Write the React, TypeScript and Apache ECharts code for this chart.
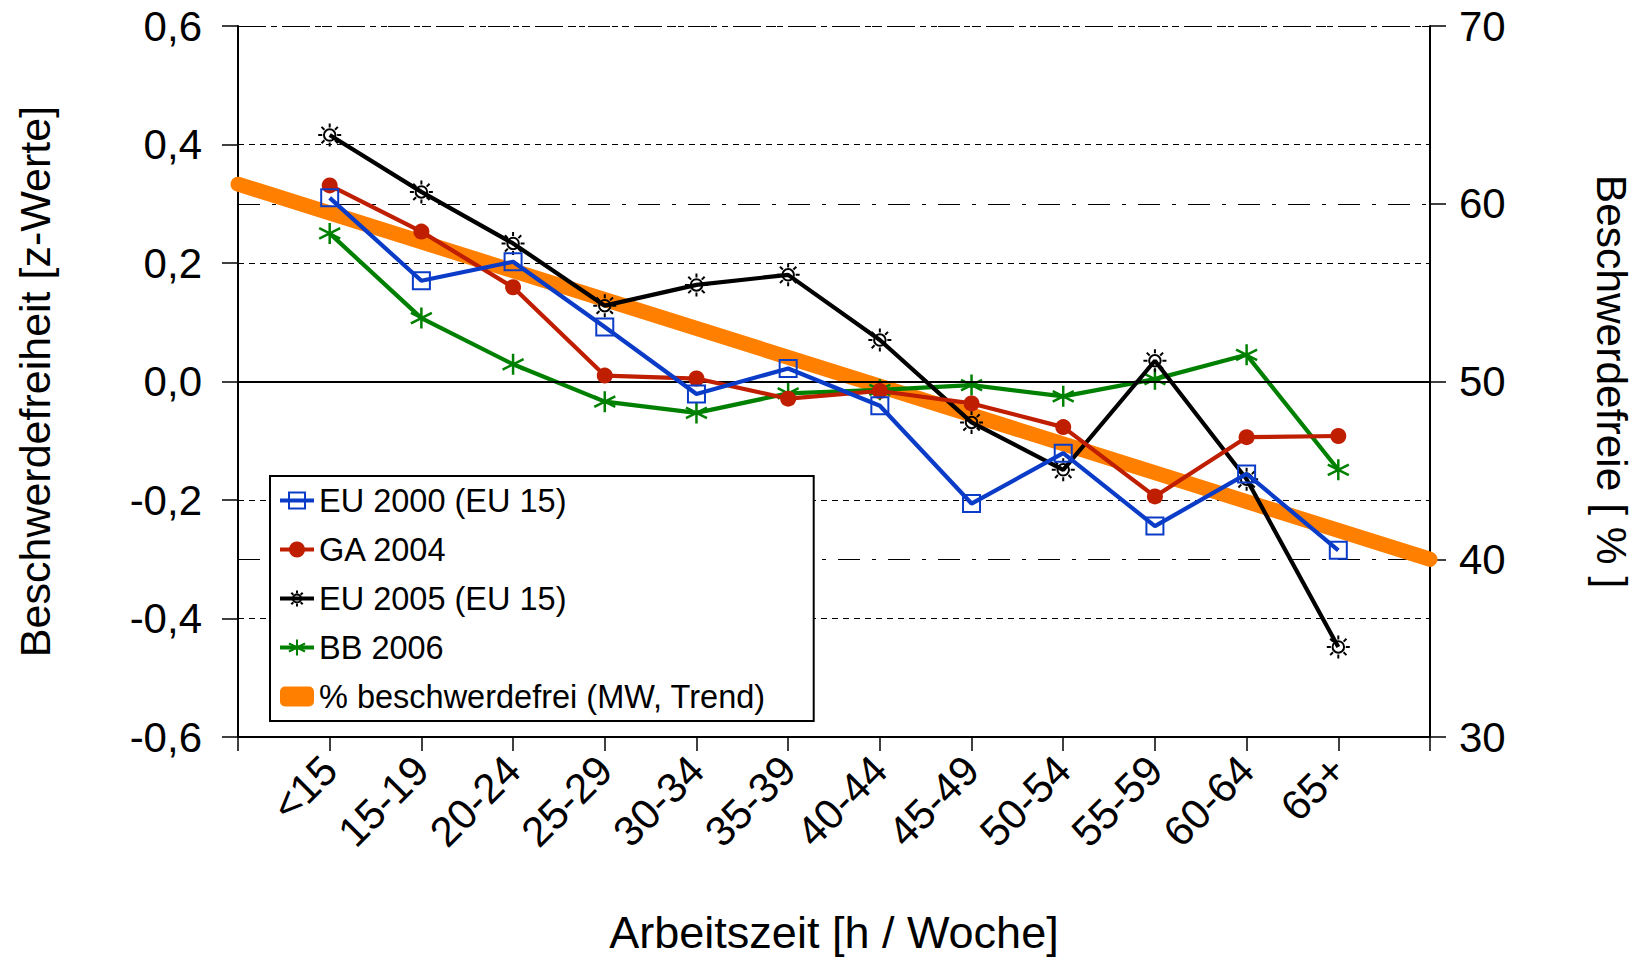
import React, { useEffect, useRef } from "react";
import * as echarts from "echarts";

const categories = ["<15", "15-19", "20-24", "25-29", "30-34", "35-39", "40-44", "45-49", "50-54", "55-59", "60-64", "65+"];
const eu2000 = [0.31, 0.17, 0.202, 0.092, -0.021, 0.022, -0.041, -0.206, -0.121, -0.244, -0.156, -0.285];
const ga2004 = [0.331, 0.253, 0.159, 0.01, 0.005, -0.029, -0.016, -0.037, -0.077, -0.194, -0.094, -0.092];
const eu2005 = [0.416, 0.32, 0.233, 0.128, 0.163, 0.18, 0.07, -0.069, -0.149, 0.035, -0.165, -0.448];
const bb2006 = [0.25, 0.107, 0.029, -0.034, -0.053, -0.02, -0.014, -0.006, -0.025, 0.004, 0.045, -0.149];
const trendStart = 61.1;
const trendEnd = 40.0;
const leftTicks = { min: -0.6, max: 0.6, interval: 0.2 };
const rightTicks = { min: 30, max: 70, interval: 10 };

const FONT = "'Liberation Sans', Arial, sans-serif";
const BLUE = "#0a3cc8";
const RED = "#bf1e00";
const BLACK = "#000000";
const GREEN = "#008000";
const ORANGE = "#ff8000";

const SUN =
  "path://M-5,0A5,5,0,1,0,5,0A5,5,0,1,0,-5,0ZM0,-6.5L0,-10M0,6.5L0,10M-6.5,0L-10,0M6.5,0L10,0M4.6,4.6L7.1,7.1M-4.6,4.6L-7.1,7.1M4.6,-4.6L7.1,-7.1M-4.6,-4.6L-7.1,-7.1";
const STAR = "path://M0,-10L0,10M-8.66,-5L8.66,5M-8.66,5L8.66,-5";

const pad = (arr: number[]) => [null, ...arr, null];

export default function App() {
  const ref = useRef<HTMLDivElement>(null);
  useEffect(() => {
    if (!ref.current) return;
    const chart = echarts.init(ref.current, undefined, { renderer: "svg" });
    const xData = ["", ...categories, ""];
    const trendData: (number | null)[] = xData.map(() => null);
    trendData[0] = trendStart;
    trendData[xData.length - 1] = trendEnd;

    chart.setOption({
      animation: false,
      backgroundColor: "#ffffff",
      textStyle: { fontFamily: FONT, color: "#000" },
      grid: { left: 238, right: 207, top: 26, bottom: 222, containLabel: false },
      legend: {
        orient: "vertical",
        left: 270,
        top: 476,
        padding: [8, 48, 8, 8],
        itemGap: 16,
        itemWidth: 34,
        itemHeight: 20,
        backgroundColor: "#ffffff",
        borderColor: "#000",
        borderWidth: 2,
        textStyle: { fontSize: 32.5, lineHeight: 32, color: "#000", fontFamily: FONT },
        data: [
          { name: "EU 2000 (EU 15)", lineStyle: { width: 4 } },
          { name: "GA 2004", lineStyle: { width: 4 } },
          { name: "EU 2005 (EU 15)", lineStyle: { width: 4 } },
          { name: "BB 2006", lineStyle: { width: 4 } },
          { name: "% beschwerdefrei (MW, Trend)", icon: "roundRect", itemStyle: { color: ORANGE } },
        ],
      },
      xAxis: {
        type: "category",
        data: xData,
        boundaryGap: false,
        axisLine: { onZero: false, lineStyle: { color: "#000", width: 2 } },
        axisTick: { show: true, length: 14, interval: 0, lineStyle: { color: "#000", width: 1.5 } },
        axisLabel: { interval: 0, rotate: 45, fontSize: 42, color: "#000", margin: 26, fontFamily: FONT },
        splitLine: { show: false },
        name: "Arbeitszeit [h / Woche]",
        nameLocation: "middle",
        nameGap: 173,
        nameTextStyle: { fontSize: 45, color: "#000", fontFamily: FONT },
      },
      yAxis: [
        {
          type: "value",
          position: "left",
          ...leftTicks,
          axisLine: { show: true, lineStyle: { color: "#000", width: 2 } },
          axisTick: { show: true, length: 16, lineStyle: { color: "#000", width: 1.5 } },
          axisLabel: {
            fontSize: 42,
            color: "#000",
            margin: 36,
            fontFamily: FONT,
            formatter: (v: number) => (Math.abs(v) < 1e-9 ? "0,0" : v.toFixed(1).replace(".", ",")),
          },
          splitLine: { show: true, lineStyle: { color: "#000", type: [6, 5], width: 1.2 } },
          name: "Beschwerdefreiheit [z-Werte]",
          nameLocation: "middle",
          nameGap: 182,
          nameRotate: 90,
          nameTextStyle: { fontSize: 43, color: "#000", fontFamily: FONT },
        },
        {
          type: "value",
          position: "right",
          ...rightTicks,
          axisLine: { show: true, lineStyle: { color: "#000", width: 2 } },
          axisTick: { show: true, length: 16, lineStyle: { color: "#000", width: 1.5 } },
          axisLabel: { fontSize: 42, color: "#000", margin: 29, fontFamily: FONT },
          splitLine: { show: true, lineStyle: { color: "#000", type: [22, 12, 4, 12], width: 1.2 } },
          name: "Beschwerdefreie [ % ]",
          nameLocation: "middle",
          nameGap: 160,
          nameRotate: -90,
          nameTextStyle: { fontSize: 42.5, color: "#000", fontFamily: FONT },
        },
      ],
      series: [
        {
          name: "% beschwerdefrei (MW, Trend)",
          type: "line",
          yAxisIndex: 1,
          data: trendData,
          connectNulls: true,
          symbol: "none",
          clip: false,
          z: 1,
          itemStyle: { color: ORANGE },
          lineStyle: { color: ORANGE, width: 15, cap: "round" },
        },
        {
          name: "BB 2006",
          type: "line",
          yAxisIndex: 0,
          data: pad(bb2006),
          symbol: STAR,
          symbolSize: 21,
          z: 3,
          itemStyle: { color: "rgba(0,0,0,0)", borderColor: GREEN, borderWidth: 2.5 },
          lineStyle: { color: GREEN, width: 4.2 },
          markLine: {
            silent: true,
            symbol: "none",
            label: { show: false },
            lineStyle: { color: "#000", type: "solid", width: 2 },
            data: [{ yAxis: 0 }],
          },
        },
        {
          name: "EU 2005 (EU 15)",
          type: "line",
          yAxisIndex: 0,
          data: pad(eu2005),
          symbol: SUN,
          symbolSize: 23,
          z: 4,
          itemStyle: { color: "rgba(255,255,255,0)", borderColor: BLACK, borderWidth: 2 },
          lineStyle: { color: BLACK, width: 4.2 },
        },
        {
          name: "GA 2004",
          type: "line",
          yAxisIndex: 0,
          data: pad(ga2004),
          symbol: "circle",
          symbolSize: 16,
          z: 5,
          itemStyle: { color: RED },
          lineStyle: { color: RED, width: 4.2 },
        },
        {
          name: "EU 2000 (EU 15)",
          type: "line",
          yAxisIndex: 0,
          data: pad(eu2000),
          symbol: "rect",
          symbolSize: 17,
          z: 6,
          itemStyle: { color: "rgba(255,255,255,0)", borderColor: BLUE, borderWidth: 2 },
          lineStyle: { color: BLUE, width: 4.2 },
        },
      ],
    });
    return () => chart.dispose();
  }, []);
  return (
    <div
      ref={ref}
      style={{ position: "fixed", left: 0, top: 0, width: 1641, height: 960, background: "#fff" }}
    />
  );
}
